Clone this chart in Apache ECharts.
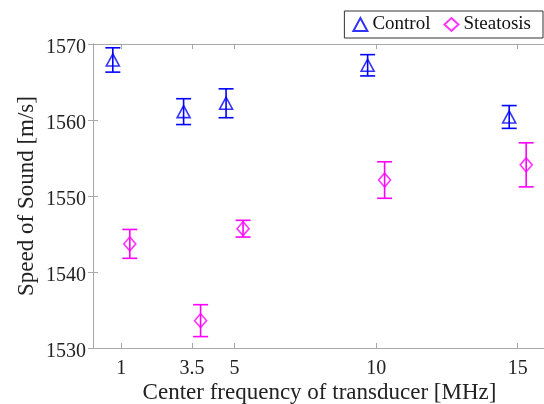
<!DOCTYPE html>
<html>
<head>
<meta charset="utf-8">
<script src="https://cdn.jsdelivr.net/npm/echarts@6.0.0/dist/echarts.min.js"></script>
<style>
  html, body { margin: 0; padding: 0; background: #fff; }
  #chart { width: 544px; height: 404px; }
</style>
</head>
<body>
<div id="chart"></div>
<script>
// tick labels of the frequency axis (MHz)
const freqTicks = [1, 3.5, 5, 10, 15];
// points are drawn a bit left / right of the real frequency
const controlX = [0.7, 3.2, 4.7, 9.7, 14.7];
const steatosisX = [1.3, 3.8, 5.3, 10.3, 15.3];
// speed of sound [m/s], mean and error
const controlMean = [1567.9, 1561.1, 1562.2, 1567.2, 1560.4];
const controlErr = [1.6, 1.7, 1.9, 1.4, 1.5];
const steatosisMean = [1543.7, 1533.6, 1545.7, 1552.1, 1554.1];
const steatosisErr = [1.9, 2.1, 1.1, 2.4, 2.9];

const blue = "#0000ff";
const magenta = "#ff00ff";
const font = "Liberation Serif";
const axisGray = "#a8a8a8";

const chart = echarts.init(document.getElementById("chart"));

function points(xs, ys) {
  return xs.map((x, i) => [x, ys[i]]);
}
function bars(xs, ys, errs) {
  return xs.map((x, i) => [x, ys[i] - errs[i], ys[i] + errs[i]]);
}

/** error bar with caps */
function errorBar(color) {
  return function (params, api) {
    const x = api.value(0);
    const lo = api.coord([x, api.value(1)]);
    const hi = api.coord([x, api.value(2)]);
    const hw = 7.5;
    const style = { stroke: color, lineWidth: 1.6 };
    return {
      type: "group",
      children: [
        { type: "line", shape: { x1: hi[0], y1: hi[1], x2: lo[0], y2: lo[1] }, style: style },
        { type: "line", shape: { x1: hi[0] - hw, y1: hi[1], x2: hi[0] + hw, y2: hi[1] }, style: style },
        { type: "line", shape: { x1: lo[0] - hw, y1: lo[1], x2: lo[0] + hw, y2: lo[1] }, style: style },
      ],
    };
  };
}

const xBase = {
  type: "value",
  min: 0,
  max: 16,
  splitLine: { show: false },
  axisLine: { show: true, lineStyle: { color: axisGray, width: 1 } },
  axisTick: { show: true, inside: true, length: 5, customValues: freqTicks, lineStyle: { color: axisGray } },
};
const yBase = {
  type: "value",
  min: 1530,
  max: 1570,
  interval: 10,
  splitLine: { show: false },
  axisLine: { show: true, lineStyle: { color: axisGray, width: 1 } },
  axisTick: { show: true, inside: true, length: 5, lineStyle: { color: axisGray } },
};

chart.setOption({
  animation: false,
  textStyle: { fontFamily: font },
  grid: { left: 93, right: -2, top: 44, bottom: 56, containLabel: false, outerBoundsMode: "none" },
  legend: {
    data: ["Control", "Steatosis"],
    orient: "horizontal",
    right: 1,
    top: 11,
    padding: [4, 12, 4, 8],
    itemGap: 13,
    itemWidth: 14,
    itemHeight: 13,
    borderColor: "#333",
    borderWidth: 1,
    backgroundColor: "#fff",
    textStyle: { fontFamily: font, fontSize: 19, color: "#111" },
  },
  xAxis: [
    Object.assign({}, xBase, {
      position: "bottom",
      name: "Center frequency of transducer [MHz]",
      nameLocation: "middle",
      nameGap: 33,
      nameMoveOverlap: false,
      nameTextStyle: { fontFamily: font, fontSize: 23, color: "#222" },
      axisLabel: { show: true, customValues: freqTicks, margin: 11, fontFamily: font, fontSize: 20, color: "#222" },
    }),
    Object.assign({}, xBase, { position: "top", axisLabel: { show: false } }),
  ],
  yAxis: [
    Object.assign({}, yBase, {
      position: "left",
      name: "Speed of Sound [m/s]",
      nameLocation: "middle",
      nameGap: 55,
      nameMoveOverlap: false,
      nameTextStyle: { fontFamily: font, fontSize: 23, color: "#222" },
      axisLabel: {
        show: true,
        margin: 7,
        color: "#222",
        formatter: (v) => "{n|" + v + "}",
        rich: {
          n: { fontFamily: font, fontSize: 20, color: "#222", padding: [7, 0, 0, 0] },
        },
      },
    }),
    Object.assign({}, yBase, { position: "right", axisLabel: { show: false } }),
  ],
  series: [
    {
      name: "Control",
      type: "scatter",
      symbol: "triangle",
      symbolSize: [13, 12],
      itemStyle: { color: "rgba(0,0,0,0)", borderColor: blue, borderWidth: 1.6 },
      data: points(controlX, controlMean),
      z: 3,
    },
    {
      name: "Steatosis",
      type: "scatter",
      symbol: "diamond",
      symbolSize: [12, 14],
      itemStyle: { color: "rgba(0,0,0,0)", borderColor: magenta, borderWidth: 1.6 },
      data: points(steatosisX, steatosisMean),
      z: 3,
    },
    {
      name: "Control error",
      type: "custom",
      renderItem: errorBar(blue),
      encode: { x: 0, y: [1, 2] },
      data: bars(controlX, controlMean, controlErr),
      z: 2,
    },
    {
      name: "Steatosis error",
      type: "custom",
      renderItem: errorBar(magenta),
      encode: { x: 0, y: [1, 2] },
      data: bars(steatosisX, steatosisMean, steatosisErr),
      z: 2,
    },
  ],
});
</script>
</body>
</html>
